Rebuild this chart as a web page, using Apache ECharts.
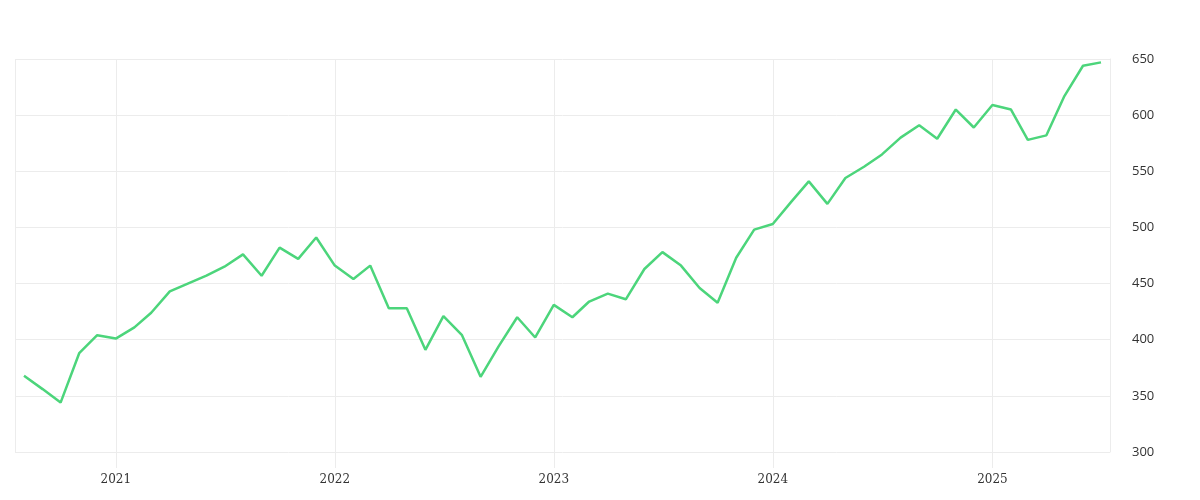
<!DOCTYPE html>
<html><head><meta charset="utf-8">
<script src="https://cdn.jsdelivr.net/npm/echarts@6/dist/echarts.min.js"></script>
<style>html,body{margin:0;background:#fff}#c{width:1200px;height:500px}</style>
</head><body><div id="c"></div>
<script>
const dates = ["2020-08","2020-09","2020-10","2020-11","2020-12","2021-01","2021-02","2021-03","2021-04","2021-05","2021-06","2021-07","2021-08","2021-09","2021-10","2021-11","2021-12","2022-01","2022-02","2022-03","2022-04","2022-05","2022-06","2022-07","2022-08","2022-09","2022-10","2022-11","2022-12","2023-01","2023-02","2023-03","2023-04","2023-05","2023-06","2023-07","2023-08","2023-09","2023-10","2023-11","2023-12","2024-01","2024-02","2024-03","2024-04","2024-05","2024-06","2024-07","2024-08","2024-09","2024-10","2024-11","2024-12","2025-01","2025-02","2025-03","2025-04","2025-05","2025-06","2025-07"];
const values = [368,356,344,388,404,401,411,424,443,450,457,465,476,457,482,472,491,466,454,466,428,428,391,421,404,367,394,420,402,431,420,434,441,436,463,478,466,446,433,473,498,503,523,541,521,544,554,565,580,591,579,605,589,609,605,578,582,617,644,647];
const yMin = 300, yMax = 650, yStep = 50;
const DAY = 86400000;
const chart = echarts.init(document.getElementById('c'));
chart.setOption({
  animation:false,
  grid:{left:15,right:90,top:59,bottom:48},
  xAxis:{type:'time',min:'2020-07-17',max:'2025-07-16',
    minInterval:365*DAY,maxInterval:366*DAY,
    axisLine:{show:false},
    axisTick:{show:true,length:16,lineStyle:{color:'#ececec'}},
    axisLabel:{color:'#333',fontFamily:'DejaVu Serif',fontSize:12,margin:22,
      formatter:v=>String(new Date(v).getFullYear())},
    splitLine:{show:true,lineStyle:{color:'#ececec'}}},
  yAxis:{type:'value',position:'right',min:yMin,max:yMax,interval:yStep,
    axisLine:{show:true,lineStyle:{color:'#ececec'}},
    axisTick:{show:false},
    axisLabel:{color:'#333',fontFamily:'Open Sans',fontSize:13,margin:22},
    splitLine:{show:true,lineStyle:{color:'#ececec'}}},
  series:[{type:'line',data:dates.map((d,i)=>[d+'-01',values[i]]),showSymbol:false,
    lineStyle:{color:'#4cd57b',width:2.5},itemStyle:{color:'#4cd57b'}}]
});
</script></body></html>
